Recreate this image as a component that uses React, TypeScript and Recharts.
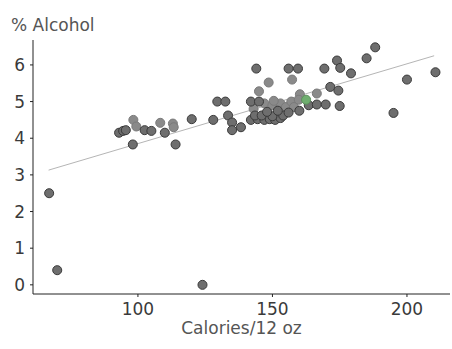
import { ScatterChart, Scatter, XAxis, YAxis, ZAxis } from "recharts";

// calories per 12 oz vs % alcohol
const darkBeers = [
  { cal: 67, alc: 2.5 }, { cal: 70, alc: 0.4 }, { cal: 124, alc: 0.0 },
  { cal: 93, alc: 4.15 }, { cal: 94.5, alc: 4.2 }, { cal: 95.5, alc: 4.22 }, { cal: 98.1, alc: 3.83 },
  { cal: 102.5, alc: 4.22 }, { cal: 105, alc: 4.2 }, { cal: 110, alc: 4.15 }, { cal: 114, alc: 3.83 },
  { cal: 120, alc: 4.52 }, { cal: 128, alc: 4.5 }, { cal: 129.5, alc: 5.0 }, { cal: 132.5, alc: 5.0 },
  { cal: 133.5, alc: 4.62 }, { cal: 135, alc: 4.43 }, { cal: 135, alc: 4.22 }, { cal: 138.3, alc: 4.3 },
  { cal: 142, alc: 5.0 }, { cal: 145, alc: 5.0 }, { cal: 144, alc: 5.9 }, { cal: 156, alc: 5.9 },
  { cal: 159.5, alc: 5.9 }, { cal: 169.3, alc: 5.9 }, { cal: 174, alc: 6.12 }, { cal: 175.2, alc: 5.92 },
  { cal: 179.2, alc: 5.77 }, { cal: 185, alc: 6.18 }, { cal: 188.2, alc: 6.48 }, { cal: 200, alc: 5.6 },
  { cal: 210.6, alc: 5.8 }, { cal: 195, alc: 4.69 }, { cal: 171.5, alc: 5.4 }, { cal: 174.5, alc: 5.3 },
  { cal: 163.5, alc: 4.9 }, { cal: 166.5, alc: 4.92 }, { cal: 169.8, alc: 4.92 }, { cal: 175, alc: 4.88 },
  { cal: 160, alc: 4.75 },
  { cal: 142, alc: 4.5 }, { cal: 144.5, alc: 4.52 }, { cal: 147, alc: 4.5 }, { cal: 149, alc: 4.52 },
  { cal: 151, alc: 4.5 }, { cal: 153, alc: 4.55 }, { cal: 143.5, alc: 4.62 }, { cal: 146, alc: 4.62 },
  { cal: 150, alc: 4.6 }, { cal: 154, alc: 4.62 }, { cal: 148, alc: 4.72 }, { cal: 152, alc: 4.75 },
  { cal: 156, alc: 4.7 },
];

const lightBeers = [
  { cal: 98.3, alc: 4.5 }, { cal: 99.4, alc: 4.32 }, { cal: 108.3, alc: 4.42 }, { cal: 113, alc: 4.4 },
  { cal: 113.3, alc: 4.3 }, { cal: 145, alc: 5.28 }, { cal: 148.6, alc: 5.52 }, { cal: 157.3, alc: 5.6 },
  { cal: 160.2, alc: 5.2 }, { cal: 166.5, alc: 5.22 }, { cal: 143, alc: 4.8 }, { cal: 147, alc: 4.95 },
  { cal: 150, alc: 4.9 }, { cal: 153, alc: 4.95 }, { cal: 155, alc: 4.85 }, { cal: 157, alc: 5.0 },
  { cal: 158, alc: 4.85 }, { cal: 150.5, alc: 5.02 }, { cal: 159.8, alc: 5.05 },
];

const highlighted = [{ cal: 162.5, alc: 5.05 }];

// least squares fit drawn as a thin line
const fitLine = [{ cal: 66.8, alc: 3.13 }, { cal: 210.1, alc: 6.25 }];

const xTicks = [100, 150, 200];
const yTicks = [0, 1, 2, 3, 4, 5, 6];

const font = "'DejaVu Sans', Verdana, sans-serif";

export default function App() {
  return (
    <div style={{ position: "relative", width: 452, height: 349, fontFamily: font }}>
      <style>{`body{margin:0}`}</style>
      <div style={{ position: "absolute", left: 11, top: 15, fontSize: 17, color: "#555" }}>% Alcohol</div>
      <ScatterChart width={452} height={349} margin={{ top: 40, right: 2, bottom: 0, left: 0 }}>
        <XAxis
          type="number" dataKey="cal" domain={[61, 216]} ticks={xTicks}
          height={55} tickSize={3} tickMargin={6}
          stroke="#222" tick={{ fill: "#3a3a3a", fontSize: 17, fontFamily: font }}
          label={{ value: "Calories/12 oz", position: "insideBottom", offset: 15, fill: "#555", fontSize: 17, fontFamily: font }}
        />
        <YAxis
          type="number" dataKey="alc" domain={[-0.25, 6.68]} ticks={yTicks}
          width={33} tickSize={3} tickMargin={5}
          stroke="#222" tick={{ fill: "#3a3a3a", fontSize: 17, fontFamily: font }}
        />
        <ZAxis range={[64, 64]} />
        <Scatter data={fitLine} line={{ stroke: "#b5b5b5", strokeWidth: 1 }} shape={() => null} isAnimationActive={false} />
        <Scatter data={lightBeers} fill="#8a8a8a" stroke="#7a7a7a" isAnimationActive={false} />
        <Scatter data={darkBeers} fill="#6e6e6e" stroke="#3a3a3a" strokeWidth={1} isAnimationActive={false} />
        <Scatter data={highlighted} fill="#6fae6f" stroke="#5b8f5b" isAnimationActive={false} />
      </ScatterChart>
    </div>
  );
}
